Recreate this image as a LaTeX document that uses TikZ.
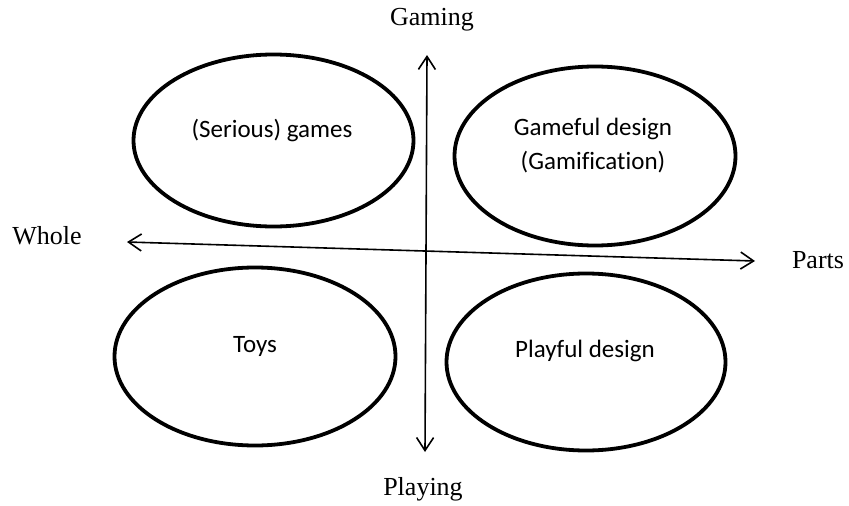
\documentclass[tikz,border=0pt]{standalone}
\usepackage{fontspec}
\setmainfont{Liberation Serif}
\newfontfamily\carlitofont[Ligatures=NoCommon]{Carlito}
\usetikzlibrary{shapes.geometric,arrows.meta}
\begin{document}
\begin{tikzpicture}[x=1pt,y=-1pt,
  oval/.style={draw,ellipse,line width=3.8pt,inner sep=0pt},
  axis/.style={line width=1.6pt,{Straight Barb[length=13pt,width=17pt]}-{Straight Barb[length=13pt,width=17pt]}},
  inlabel/.style={font=\carlitofont\fontsize{25}{34}\selectfont,align=center,anchor=base,inner sep=0pt},
  axlabel/.style={font=\fontsize{26}{30}\selectfont,anchor=base,inner sep=0pt}]
\useasboundingbox[fill=white] (0,0) rectangle (849,506);
% ellipses
\node[oval,minimum width=280pt,minimum height=172pt] (serious) at (273.5,140.5) {};
\node[oval,minimum width=281pt,minimum height=179pt] (gameful) at (595,156) {};
\node[oval,minimum width=281pt,minimum height=178pt] (toys) at (255,356.5) {};
\node[oval,minimum width=279pt,minimum height=177pt] (playful) at (586,362) {};
% texts in ellipses
\node[inlabel] (tserious) at (272,137) {(Serious) games};
\node[inlabel] (tgameful) at (593,169) {Gameful design\\(Gamification)};
\node[inlabel] (ttoys) at (255,352) {Toys};
\node[inlabel] (tplayful) at (585,357) {Playful design};
% axes
\coordinate (vtop) at (427,55);
\coordinate (vbot) at (425,452);
\coordinate (hleft) at (127,242);
\coordinate (hright) at (755,261);
\draw[axis] (vtop) -- (vbot);
\draw[axis] (hleft) -- (hright);
% axis labels
\node[axlabel] (gaming) at (432,25) {Gaming};
\node[axlabel] (playing) at (423,495) {Playing};
\node[axlabel] (whole) at (47,244) {Whole};
\node[axlabel] (parts) at (818,268) {Parts};
\end{tikzpicture}
\end{document}
